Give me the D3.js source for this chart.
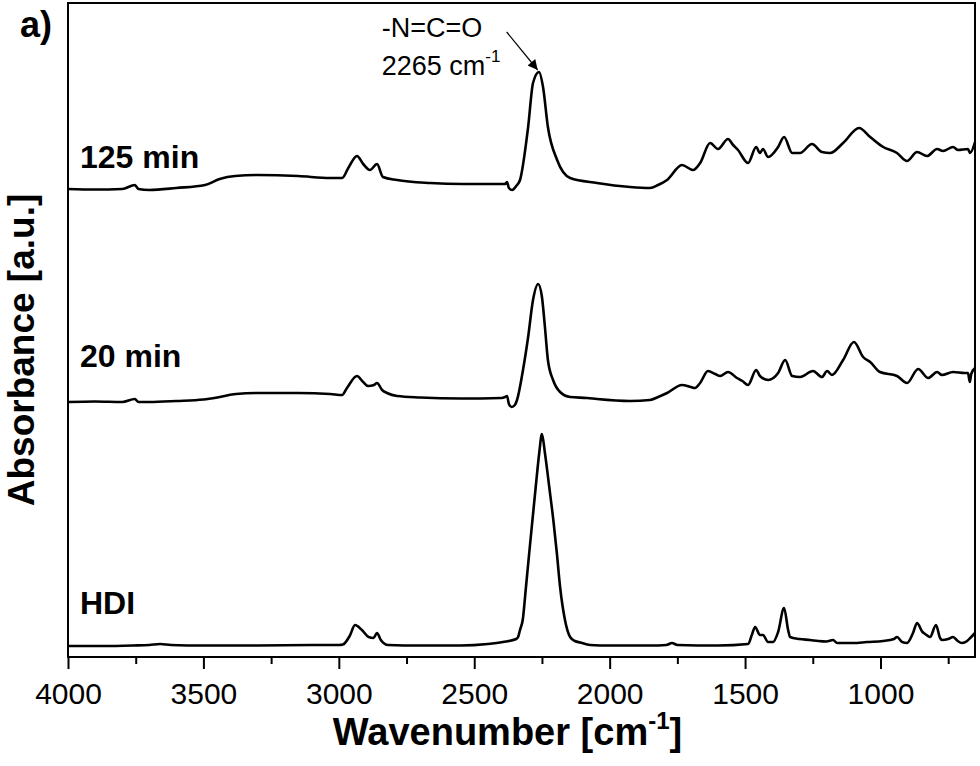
<!DOCTYPE html>
<html>
<head>
<meta charset="utf-8">
<script src="https://cdn.jsdelivr.net/npm/d3@7"></script>
<style>
  body { margin: 0; background: #fff; }
  text { font-family: "Liberation Sans", Arial, sans-serif; fill: #000; }
</style>
</head>
<body>
<div id="chart"></div>
<script>
const W = 980, H = 766;
const margin = { top: 3, right: 5, bottom: 109, left: 68 };
const width = W - margin.left - margin.right;
const height = H - margin.top - margin.bottom;

// spectra (wavenumber cm-1, stacked absorbance a.u.)
const hdiWn = [4000, 3880, 3760, 3700, 3660, 3620, 3500, 3300, 3100, 3000, 2985, 2960, 2940, 2915, 2890, 2872, 2859, 2845, 2818, 2700, 2550, 2450, 2394, 2345, 2338, 2331, 2321, 2309, 2297, 2285, 2273, 2260, 2250, 2239, 2223, 2208, 2195, 2183, 2165, 2146, 2128, 2109, 2072, 2000, 1850, 1790, 1770, 1750, 1600, 1489, 1475, 1463, 1445, 1434, 1415, 1397, 1378, 1356, 1341, 1334, 1300, 1260, 1230, 1200, 1175, 1160, 1100, 1050, 990, 950, 939, 920, 902, 880, 865, 845, 835, 817, 795, 780, 773, 750, 732, 715, 699, 680, 665, 651];
const hdiAbs = [0.11, 0.11, 0.115, 0.12, 0.13, 0.12, 0.115, 0.115, 0.12, 0.12, 0.125, 0.21, 0.32, 0.27, 0.20, 0.19, 0.24, 0.17, 0.12, 0.115, 0.115, 0.13, 0.15, 0.18, 0.20, 0.27, 0.37, 0.70, 1.04, 1.37, 1.70, 2.04, 2.23, 2.04, 1.70, 1.37, 1.04, 0.70, 0.37, 0.20, 0.16, 0.145, 0.12, 0.115, 0.115, 0.12, 0.14, 0.12, 0.115, 0.13, 0.22, 0.30, 0.22, 0.22, 0.15, 0.15, 0.25, 0.49, 0.27, 0.20, 0.18, 0.17, 0.16, 0.155, 0.17, 0.14, 0.14, 0.15, 0.16, 0.18, 0.20, 0.15, 0.14, 0.24, 0.34, 0.25, 0.23, 0.20, 0.32, 0.19, 0.17, 0.18, 0.20, 0.16, 0.14, 0.16, 0.20, 0.24];

const min20Wn = [4000, 3900, 3800, 3753, 3740, 3700, 3600, 3500, 3440, 3380, 3300, 3150, 3032, 2988, 2970, 2933, 2910, 2892, 2870, 2859, 2840, 2822, 2785, 2700, 2550, 2400, 2386, 2379, 2372, 2362, 2350, 2342, 2320, 2301, 2283, 2264, 2250, 2239, 2228, 2209, 2183, 2146, 2083, 2047, 1925, 1851, 1821, 1788, 1733, 1700, 1685, 1666, 1637, 1610, 1592, 1563, 1530, 1510, 1489, 1459, 1445, 1415, 1378, 1352, 1326, 1297, 1249, 1216, 1197, 1179, 1138, 1098, 1064, 1038, 1002, 939, 902, 861, 824, 791, 773, 732, 690, 677, 670, 665, 651];
const min20Abs = [2.55, 2.555, 2.55, 2.58, 2.55, 2.55, 2.56, 2.575, 2.60, 2.63, 2.64, 2.64, 2.63, 2.62, 2.69, 2.81, 2.75, 2.71, 2.72, 2.74, 2.67, 2.64, 2.61, 2.595, 2.585, 2.59, 2.60, 2.61, 2.53, 2.50, 2.52, 2.57, 2.87, 3.20, 3.57, 3.73, 3.60, 3.30, 2.97, 2.77, 2.65, 2.60, 2.59, 2.58, 2.56, 2.57, 2.60, 2.64, 2.72, 2.70, 2.69, 2.74, 2.86, 2.83, 2.81, 2.85, 2.79, 2.76, 2.72, 2.87, 2.81, 2.77, 2.84, 2.97, 2.81, 2.80, 2.86, 2.80, 2.86, 2.82, 2.97, 3.15, 3.00, 2.95, 2.85, 2.81, 2.74, 2.88, 2.79, 2.85, 2.82, 2.85, 2.84, 2.84, 2.75, 2.83, 2.89];

const min125Wn = [4000, 3900, 3800, 3753, 3740, 3700, 3600, 3494, 3440, 3383, 3300, 3150, 3032, 2988, 2965, 2933, 2910, 2885, 2859, 2837, 2785, 2663, 2541, 2386, 2379, 2372, 2360, 2345, 2331, 2301, 2283, 2261, 2246, 2228, 2194, 2146, 2047, 1925, 1851, 1821, 1788, 1733, 1692, 1666, 1629, 1600, 1563, 1544, 1526, 1489, 1459, 1445, 1434, 1415, 1378, 1356, 1326, 1297, 1253, 1216, 1186, 1138, 1079, 1038, 990, 939, 902, 865, 828, 791, 769, 732, 714, 677, 669, 651];
const min125Abs = [4.68, 4.675, 4.68, 4.72, 4.68, 4.67, 4.69, 4.72, 4.78, 4.81, 4.82, 4.81, 4.79, 4.79, 4.89, 5.01, 4.93, 4.87, 4.93, 4.80, 4.77, 4.74, 4.73, 4.73, 4.75, 4.69, 4.67, 4.71, 4.77, 5.30, 5.74, 5.85, 5.70, 5.30, 4.97, 4.79, 4.74, 4.70, 4.69, 4.72, 4.77, 4.92, 4.87, 4.94, 5.14, 5.08, 5.18, 5.12, 5.07, 4.94, 5.10, 5.04, 5.08, 5.00, 5.10, 5.20, 5.04, 5.04, 5.13, 5.05, 5.04, 5.14, 5.29, 5.20, 5.10, 5.04, 4.96, 5.05, 5.01, 5.08, 5.06, 5.10, 5.07, 5.08, 5.04, 5.15];

const seriesNames = ['HDI', '20 min', '125 min'];
const labelAbs = [0.43, 2.90, 4.89];   // baseline height of each series label
const majorTicks = [4000, 3500, 3000, 2500, 2000, 1500, 1000];
const minorTicks = [3750, 3250, 2750, 2250, 1750, 1250, 750];

const series = [
  { name: seriesNames[0], wn: hdiWn, abs: hdiAbs, lab: labelAbs[0] },
  { name: seriesNames[1], wn: min20Wn, abs: min20Abs, lab: labelAbs[1] },
  { name: seriesNames[2], wn: min125Wn, abs: min125Abs, lab: labelAbs[2] }
];

const svg = d3.select('#chart').append('svg')
  .attr('width', W).attr('height', H)
  .append('g')
  .attr('transform', `translate(${margin.left},${margin.top})`);

const x = d3.scaleLinear().domain([4000, 651]).range([0, width]);
const y = d3.scaleLinear().domain([0, 6.54]).range([height, 0]);

// spectra
const line = d3.line()
  .x(d => x(d[0]))
  .y(d => y(d[1]))
  .curve(d3.curveMonotoneX);

svg.selectAll('.spec')
  .data(series)
  .join('path')
  .attr('class', 'spec')
  .attr('d', s => line(s.wn.map((w, i) => [w, s.abs[i]])))
  .attr('fill', 'none')
  .attr('stroke', '#000')
  .attr('stroke-width', 2.6)
  .attr('stroke-linejoin', 'round');

svg.selectAll('.slabel')
  .data(series)
  .join('text')
  .attr('class', 'slabel')
  .attr('x', 12)
  .attr('y', s => y(s.lab))
  .attr('font-size', 32)
  .attr('font-weight', 'bold')
  .text(s => s.name);

// frame
svg.append('rect')
  .attr('width', width).attr('height', height)
  .attr('fill', 'none').attr('stroke', '#000').attr('stroke-width', 2);

// bottom axis, ticks pointing out
const xAxis = svg.append('g')
  .attr('transform', `translate(0,${height})`)
  .call(d3.axisBottom(x).tickValues(majorTicks).tickSize(12).tickFormat(d3.format('d')));
xAxis.select('.domain').remove();
xAxis.selectAll('line').attr('stroke', '#000').attr('stroke-width', 2);
xAxis.selectAll('text')
  .attr('y', 47)
  .attr('dy', null)
  .attr('fill', '#000')
  .style('font-size', '30px');

const xMinor = svg.append('g')
  .attr('transform', `translate(0,${height})`)
  .call(d3.axisBottom(x).tickValues(minorTicks).tickSize(7).tickFormat(''));
xMinor.select('.domain').remove();
xMinor.selectAll('line').attr('stroke', '#000').attr('stroke-width', 2);

// axis titles
const xt = svg.append('text')
  .attr('x', width / 2 - 14)
  .attr('y', height + 88)
  .attr('text-anchor', 'middle')
  .attr('font-size', 38)
  .attr('font-weight', 'bold');
xt.append('tspan').text('Wavenumber [cm');
xt.append('tspan').attr('font-size', 24).attr('dy', -16).text('-1');
xt.append('tspan').attr('dy', 16).text(']');

svg.append('text')
  .attr('transform', `translate(${34 - margin.left},${350 - margin.top}) rotate(-90)`)
  .attr('text-anchor', 'middle')
  .attr('font-size', 37)
  .attr('font-weight', 'bold')
  .text('Absorbance [a.u.]');

svg.append('text')
  .attr('x', 20 - margin.left)
  .attr('y', 34)
  .attr('font-size', 36)
  .attr('font-weight', 'bold')
  .text('a)');

// -N=C=O annotation with arrow to the 125 min peak
const peakW = 2262, peakA = 5.85;
svg.append('defs').append('marker')
  .attr('id', 'head')
  .attr('viewBox', '0 0 10 10')
  .attr('refX', 10).attr('refY', 5)
  .attr('markerWidth', 14).attr('markerHeight', 10)
  .attr('markerUnits', 'userSpaceOnUse')
  .attr('orient', 'auto')
  .append('path').attr('d', 'M0,0L10,5L0,10Z').attr('fill', '#000');

svg.append('line')
  .attr('x1', x(peakW) - 32).attr('y1', y(peakA) - 40)
  .attr('x2', x(peakW) - 1).attr('y2', y(peakA) - 2)
  .attr('stroke', '#000').attr('stroke-width', 1.2)
  .attr('marker-end', 'url(#head)');

svg.append('text')
  .attr('x', x(peakW) - 157).attr('y', 34)
  .attr('font-size', 27)
  .text('-N=C=O');

const wl = svg.append('text')
  .attr('x', x(peakW) - 157).attr('y', 72)
  .attr('font-size', 27);
wl.append('tspan').text('2265 cm');
wl.append('tspan').attr('font-size', 17).attr('dy', -13).text('-1');
</script>
</body>
</html>
